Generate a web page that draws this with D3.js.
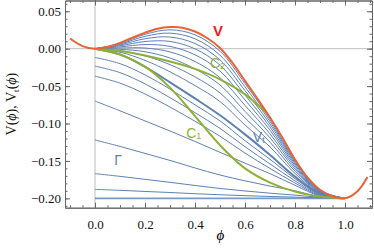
<!DOCTYPE html>
<html>
<head>
<meta charset="utf-8">
<script src="https://cdn.jsdelivr.net/npm/d3@7"></script>
<style>
  body { margin: 0; background: #fff; }
  .tick text { font-family: "Liberation Serif", serif; font-size: 13px; fill: #111; }
  .frame path, .frame line { stroke: #666; }
</style>
</head>
<body>
<div id="chart"></div>
<script>
// ---- data ----
// potential V(phi)
const phiV = [-0.1, -0.05, 0, 0.05, 0.1, 0.15, 0.2, 0.25, 0.3, 0.35, 0.4, 0.45, 0.5,
              0.55, 0.6, 0.65, 0.7, 0.75, 0.8, 0.85, 0.9, 0.95, 1.0, 1.05, 1.09];
const vValues = [0.0136, 0.0035, 0, 0.0022, 0.0078, 0.0148, 0.0215, 0.0267, 0.0289, 0.0281, 0.0230, 0.0140, 0.0010,
                 -0.0190, -0.0430, -0.0670, -0.0920, -0.1190, -0.1480, -0.1720, -0.1885, -0.1972, -0.2000, -0.1905, -0.1715];

// common phi grid for the tunneling potentials
const phiGrid = [0, 0.1, 0.2, 0.3, 0.4, 0.5, 0.6, 0.7, 0.8, 0.9, 1.0];

// V_t curves leaving the false vacuum at the origin
const vt1 = [0, 0.0070, 0.0192, 0.0252, 0.0185, -0.0034, -0.0466, -0.0944, -0.1492, -0.1890, -0.2];
const vt2 = [0, 0.0061, 0.0165, 0.0208, 0.0132, -0.0087, -0.0510, -0.0973, -0.1506, -0.1894, -0.2];
const vt3 = [0, 0.0050, 0.0133, 0.0156, 0.0069, -0.0149, -0.0561, -0.1007, -0.1522, -0.1898, -0.2];
const vt4 = [0, 0.0038, 0.0096, 0.0097, -0.0002, -0.0220, -0.0619, -0.1046, -0.1541, -0.1903, -0.2];
const vt5 = [0, 0.0024, 0.0055, 0.0031, -0.0082, -0.0299, -0.0685, -0.1089, -0.1562, -0.1908, -0.2];
const vt6 = [0, 0.0009, 0.0009, -0.0043, -0.0171, -0.0388, -0.0758, -0.1138, -0.1585, -0.1913, -0.2];
const vt7 = [0, -0.0008, -0.0041, -0.0124, -0.0270, -0.0485, -0.0838, -0.1191, -0.1610, -0.1919, -0.2];
const vt8 = [0, -0.0027, -0.0096, -0.0213, -0.0377, -0.0591, -0.0925, -0.1249, -0.1637, -0.1925, -0.2];
const vt9 = [0, -0.0047, -0.0156, -0.0309, -0.0493, -0.0706, -0.1020, -0.1312, -0.1667, -0.1931, -0.2];
// highlighted V_t (thick)
const vtMain = [0, -0.0076, -0.0243, -0.0449, -0.0665, -0.0890, -0.1145, -0.1420, -0.1710, -0.1938, -0.2];

// Gamma family, starting below zero at phi = 0
const gamma1 = [-0.0117, -0.0200, -0.0350, -0.0540, -0.0750, -0.0965, -0.1230, -0.1478, -0.1737, -0.1946, -0.2];
const gamma2 = [-0.0233, -0.0320, -0.0470, -0.0655, -0.0855, -0.1065, -0.1310, -0.1540, -0.1766, -0.1955, -0.2];
const gamma3 = [-0.0367, -0.0460, -0.0605, -0.0780, -0.0970, -0.1170, -0.1395, -0.1600, -0.1795, -0.1963, -0.2];
const gamma4 = [-0.0700, -0.0830, -0.0965, -0.1100, -0.1240, -0.1385, -0.1530, -0.1670, -0.1825, -0.1970, -0.2];
const gamma5 = [-0.1220, -0.1306, -0.1399, -0.1493, -0.1594, -0.1688, -0.1766, -0.1836, -0.1899, -0.1978, -0.2];
const gamma6 = [-0.1670, -0.1706, -0.1746, -0.1786, -0.1828, -0.1868, -0.1901, -0.1931, -0.1957, -0.1986, -0.2];
const gamma7 = [-0.1880, -0.1893, -0.1908, -0.1922, -0.1938, -0.1952, -0.1964, -0.1975, -0.1984, -0.1994, -0.2];
const gamma8 = [-0.2, -0.2, -0.2, -0.2, -0.2, -0.2, -0.2, -0.2, -0.2, -0.2, -0.2];

// green curves C1 and C2
const c1Values = [0, -0.008, -0.024, -0.052, -0.090, -0.129, -0.160, -0.179, -0.191, -0.1975, -0.2];
const c2Phi = [0, 0.1, 0.2, 0.3, 0.4, 0.5, 0.6, 0.69];
const c2Values = [0, -0.003, -0.009, -0.017, -0.027, -0.041, -0.061, -0.087];

// ticks
const xMajor = [0, 0.2, 0.4, 0.6, 0.8, 1.0];
const yMajor = [-0.2, -0.15, -0.1, -0.05, 0, 0.05];

// in-plot labels [text, subscript, phi, value]
const labels = [
  ["V", "", 0.492, 0.0255],
  ["C", "2", 0.49, -0.0195],
  ["C", "1", 0.395, -0.1125],
  ["V", "t", 0.655, -0.118],
  ["Γ", "", 0.092, -0.149]
];

// ---- drawing ----
const width = 374, height = 249;
const plotLeft = 65, plotRight = 372, plotTop = 0.5, plotBottom = 207.7;

const colors = { blue: "#5E81B5", green: "#8FB032", red: "#EB6235", labelRed: "#f01c1c" };

const svg = d3.select("#chart").append("svg")
  .attr("width", width)
  .attr("height", height);

const x = d3.scaleLinear().domain([-0.12, 1.108]).range([plotLeft, plotRight]);
const y = d3.scaleLinear().domain([-0.2125, 0.0644]).range([plotBottom, plotTop]);

svg.append("defs").append("clipPath")
  .attr("id", "clip")
  .append("rect")
  .attr("x", plotLeft).attr("y", plotTop)
  .attr("width", plotRight - plotLeft).attr("height", plotBottom - plotTop);

const plot = svg.append("g").attr("clip-path", "url(#clip)");

// zero axes
plot.append("line")
  .attr("x1", x(0)).attr("x2", x(0)).attr("y1", plotTop).attr("y2", plotBottom)
  .attr("stroke", "#bdbdbd").attr("stroke-width", 1);
plot.append("line")
  .attr("x1", plotLeft).attr("x2", plotRight).attr("y1", y(0)).attr("y2", y(0))
  .attr("stroke", "#bdbdbd").attr("stroke-width", 1);

const line = d3.line()
  .x(d => x(d[0]))
  .y(d => y(d[1]))
  .curve(d3.curveCatmullRom.alpha(0.5));

const zipGrid = (vals, phis) => vals.map((v, i) => [(phis || phiGrid)[i], v]);

// thin blue families
const thinCurves = [vt1, vt2, vt3, vt4, vt5, vt6, vt7, vt8, vt9,
                    gamma1, gamma2, gamma3, gamma4, gamma5, gamma6, gamma7];
plot.selectAll(".thin")
  .data(thinCurves)
  .enter().append("path")
  .attr("class", "thin")
  .attr("d", d => line(zipGrid(d)))
  .attr("fill", "none")
  .attr("stroke", colors.blue)
  .attr("stroke-width", 1);

plot.append("path")
  .attr("d", line(zipGrid(gamma8)))
  .attr("fill", "none")
  .attr("stroke", colors.blue)
  .attr("stroke-opacity", 0.8)
  .attr("stroke-width", 1.6);

plot.append("path")
  .attr("d", line(zipGrid(vtMain)))
  .attr("fill", "none")
  .attr("stroke", colors.blue)
  .attr("stroke-width", 2);

// green curves
plot.append("path")
  .attr("d", line(zipGrid(c1Values)))
  .attr("fill", "none")
  .attr("stroke", colors.green)
  .attr("stroke-width", 2);
plot.append("path")
  .attr("d", line(zipGrid(c2Values, c2Phi)))
  .attr("fill", "none")
  .attr("stroke", colors.green)
  .attr("stroke-width", 2);

// potential
plot.append("path")
  .attr("d", line(zipGrid(vValues, phiV)))
  .attr("fill", "none")
  .attr("stroke", colors.red)
  .attr("stroke-width", 2);

// frame with inward ticks
const fmtX = d3.format(".1f"), fmtY = d3.format(".2f");
const xMinor = d3.range(-0.1, 1.101, 0.05).map(v => +v.toFixed(2));
const yMinor = d3.range(-0.21, 0.0601, 0.01).map(v => +v.toFixed(2));

function frameAxis(axis, translate) {
  const g = svg.append("g").attr("class", "frame").attr("transform", translate);
  g.call(axis);
  return g;
}

frameAxis(d3.axisBottom(x).tickValues(xMinor).tickSize(-2.5).tickSizeOuter(0).tickFormat(""), `translate(0,${plotBottom})`);
frameAxis(d3.axisBottom(x).tickValues(xMajor).tickSize(-5).tickSizeOuter(0).tickPadding(10).tickFormat(fmtX), `translate(0,${plotBottom})`)
  .selectAll(".tick text").attr("dy", "0.85em");
frameAxis(d3.axisTop(x).tickValues(xMinor).tickSize(-2.5).tickSizeOuter(0).tickFormat(""), `translate(0,${plotTop})`);
frameAxis(d3.axisTop(x).tickValues(xMajor).tickSize(-5).tickSizeOuter(0).tickFormat(""), `translate(0,${plotTop})`);

frameAxis(d3.axisLeft(y).tickValues(yMinor).tickSize(-2.5).tickSizeOuter(0).tickFormat(""), `translate(${plotLeft},0)`);
frameAxis(d3.axisLeft(y).tickValues(yMajor).tickSize(-5).tickSizeOuter(0).tickPadding(4).tickFormat(fmtY), `translate(${plotLeft},0)`);
frameAxis(d3.axisRight(y).tickValues(yMinor).tickSize(-2.5).tickSizeOuter(0).tickFormat(""), `translate(${plotRight},0)`);
frameAxis(d3.axisRight(y).tickValues(yMajor).tickSize(-5).tickSizeOuter(0).tickFormat(""), `translate(${plotRight},0)`);

// axis titles
svg.append("text")
  .attr("x", (plotLeft + plotRight) / 2 + 2)
  .attr("y", 240)
  .attr("text-anchor", "middle")
  .style("font-family", "'Liberation Serif', serif")
  .style("font-style", "italic")
  .style("font-size", "15px")
  .text("ϕ");

const yTitle = svg.append("text")
  .attr("transform", `translate(16,${(plotTop + plotBottom) / 2}) rotate(-90)`)
  .attr("text-anchor", "middle")
  .style("font-family", "'Liberation Serif', serif")
  .style("font-size", "14px")
  .style("fill", "#111");
yTitle.append("tspan").text("V(");
yTitle.append("tspan").style("font-style", "italic").text("ϕ");
yTitle.append("tspan").text("),  V");
yTitle.append("tspan").attr("dy", 3).style("font-size", "9px").text("t");
yTitle.append("tspan").attr("dy", -3).text("(");
yTitle.append("tspan").style("font-style", "italic").text("ϕ");
yTitle.append("tspan").text(")");

// in-plot labels
labels.forEach(([main, sub, px, py], i) => {
  const isV = i === 0;
  const col = isV ? colors.labelRed : (main === "C" ? colors.green : colors.blue);
  const t = svg.append("text")
    .attr("x", x(px))
    .attr("y", y(py))
    .attr("text-anchor", "middle")
    .attr("dominant-baseline", "central")
    .style("font-family", "'Liberation Sans', sans-serif")
    .style("font-size", isV ? "15px" : "14px")
    .style("font-weight", isV ? "bold" : "normal")
    .style("fill", col);
  t.append("tspan").text(main);
  if (sub) t.append("tspan").attr("dy", 3).style("font-size", "9px").text(sub);
});
</script>
</body>
</html>
